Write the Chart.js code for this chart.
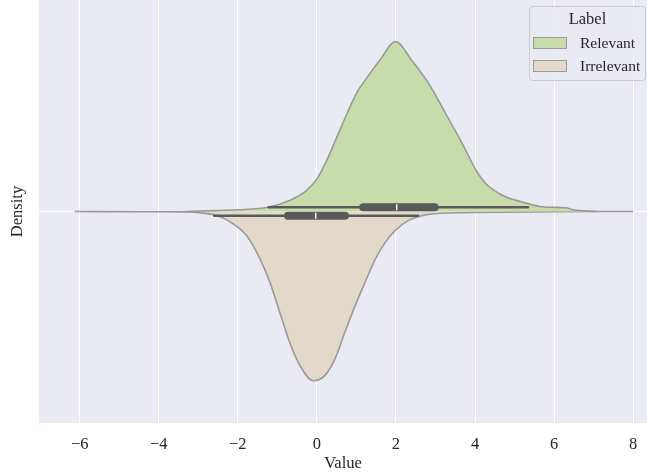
<!DOCTYPE html>
<html>
<head>
<meta charset="utf-8">
<script src="https://cdn.jsdelivr.net/npm/chart.js@4.4.1/dist/chart.umd.min.js"></script>
<style>
  body { margin: 0; background: #fff; }
  #wrap { position: relative; width: 647px; height: 473px; }
  #legend {
    position: absolute; left: 529px; top: 6px; width: 117px; height: 75px;
    box-sizing: border-box; border: 1px solid #cccccc; border-radius: 4px;
    background: rgba(234, 234, 242, 0.8);
    font-family: "Liberation Serif", "DejaVu Serif", serif; color: #262626;
  }
  #legend .title { position: absolute; left: 0; right: 0; top: 2px; text-align: center; font-size: 16.5px; line-height: 20px; }
  #legend .row { position: absolute; left: 3px; font-size: 15.5px; line-height: 18px; white-space: nowrap; }
  #legend .sw { display: inline-block; width: 32px; height: 10px; border: 1px solid #9a9a9a; vertical-align: -1px; margin-right: 13px; }
</style>
</head>
<body>
<div id="wrap">
  <canvas id="chart" width="647" height="473"></canvas>
  <div id="legend">
    <div class="title">Label</div>
    <div class="row" style="top:27px"><span class="sw" style="background:#c7dbab"></span>Relevant</div>
    <div class="row" style="top:50px"><span class="sw" style="background:#e3d9ca"></span>Irrelevant</div>
  </div>
</div>
<script>
// 軸刻度
const xTicks = [-6, -4, -2, 0, 2, 4, 6, 8];

// Relevant 密度輪廓 (上半部)
const relevantX = [-3.33, -2.6, -2.0, -1.24, -0.69, -0.26, 0.0, 0.25, 0.5, 0.76, 1.01, 1.27, 1.6, 1.99, 2.4, 2.83, 3.26, 3.68, 4.03, 4.28, 4.7, 5.21, 5.63, 5.97, 6.3, 6.48, 7.08];
const relevantW = [0, 0.002, 0.004, 0.010, 0.026, 0.050, 0.077, 0.121, 0.175, 0.231, 0.281, 0.317, 0.359, 0.402, 0.357, 0.302, 0.231, 0.160, 0.097, 0.065, 0.038, 0.022, 0.012, 0.010, 0.009, 0.004, 0];

// Irrelevant 密度輪廓 (下半部)
const irrelevantX = [-6.13, -4.5, -3.3, -2.97, -2.55, -2.12, -1.78, -1.44, -1.19, -0.94, -0.69, -0.43, -0.09, 0.2, 0.46, 0.71, 0.97, 1.22, 1.48, 1.73, 1.98, 2.32, 2.75, 3.51, 4.19, 6.0, 8.0];
const irrelevantW = [0, 0.0005, 0.001, 0.003, 0.009, 0.029, 0.057, 0.112, 0.167, 0.238, 0.309, 0.364, 0.400, 0.388, 0.348, 0.285, 0.222, 0.167, 0.112, 0.073, 0.045, 0.021, 0.008, 0.003, 0.002, 0.0005, 0];

// 盒鬚圖統計值: [whiskerLow, q1, median, q3, whiskerHigh]
const relevantBox = [-1.22, 1.17, 2.02, 2.98, 5.34];
const irrelevantBox = [-2.6, -0.73, -0.03, 0.71, 2.56];

const BG = "#eaeaf2";
const OUTLINE = "#9a9a9a";
const BOXC = "#5a5a5a";
const OFF = 0.01; // 盒子離中線的偏移

function violin(xs, ws, sign, color) {
  return {
    type: "line",
    data: xs.map((x, i) => ({ x, y: sign * ws[i] })),
    borderColor: OUTLINE,
    backgroundColor: color,
    borderWidth: 1.6,
    fill: "origin",
    pointRadius: 0,
    cubicInterpolationMode: "monotone",
    order: 4,
  };
}

function seg(x0, x1, y, width) {
  return {
    type: "line",
    data: [{ x: x0, y }, { x: x1, y }],
    borderColor: BOXC,
    borderWidth: width,
    borderCapStyle: "round",
    pointRadius: 0,
    fill: false,
    order: width > 4 ? 2 : 3,
  };
}

function median(v, y) {
  return {
    type: "scatter",
    data: [{ x: v, y }],
    pointStyle: "line",
    rotation: 90,
    radius: 3,
    borderColor: "#ffffff",
    borderWidth: 1.5,
    order: 1,
  };
}

const bgPlugin = {
  id: "bg",
  beforeDraw(chart) {
    const { ctx, chartArea: a } = chart;
    ctx.save();
    ctx.fillStyle = BG;
    ctx.fillRect(a.left, a.top, a.right - a.left, a.bottom - a.top);
    ctx.restore();
  },
};

const serif = "'Liberation Serif', 'DejaVu Serif', serif";

new Chart(document.getElementById("chart"), {
  type: "line",
  data: {
    datasets: [
      violin(relevantX, relevantW, 1, "#c7dbab"),
      violin(irrelevantX, irrelevantW, -1, "#e3d9ca"),
      seg(relevantBox[0], relevantBox[4], OFF, 2.5),
      seg(relevantBox[1], relevantBox[3], OFF, 8),
      median(relevantBox[2], OFF),
      seg(irrelevantBox[0], irrelevantBox[4], -OFF, 2.5),
      seg(irrelevantBox[1], irrelevantBox[3], -OFF, 8),
      median(irrelevantBox[2], -OFF),
    ],
  },
  options: {
    responsive: false,
    animation: false,
    layout: { padding: 0, autoPadding: false },
    plugins: { legend: { display: false }, tooltip: { enabled: false } },
    scales: {
      x: {
        type: "linear",
        min: -7.03,
        max: 8.35,
        afterBuildTicks: (s) => { s.ticks = xTicks.map((v) => ({ value: v })); },
        afterFit: (s) => { s.height = 50; s.paddingLeft = 0; s.paddingRight = 0; },
        grid: { color: "#ffffff", lineWidth: 1, drawTicks: false },
        border: { display: false },
        ticks: {
          padding: 12,
          color: "#262626",
          font: { family: serif, size: 16.5 },
          callback: (v) => String(v).replace("-", "\u2212"),
        },
        title: { display: true, text: "Value", color: "#262626", font: { family: serif, size: 16.5, lineHeight: 1.1 }, padding: { top: 0, bottom: 0 } },
      },
      y: {
        type: "linear",
        min: -0.5,
        max: 0.5,
        afterBuildTicks: (s) => { s.ticks = [{ value: 0 }]; },
        afterFit: (s) => { s.width = 39; s.paddingTop = 0; s.paddingBottom = 0; },
        grid: { color: "#ffffff", lineWidth: 1, drawTicks: false },
        border: { display: false },
        ticks: { display: false },
        title: { display: true, text: "Density", color: "#262626", font: { family: serif, size: 16.5, lineHeight: 1.1 }, padding: { top: 9, bottom: 0 } },
      },
    },
  },
  plugins: [bgPlugin],
});
</script>
</body>
</html>
